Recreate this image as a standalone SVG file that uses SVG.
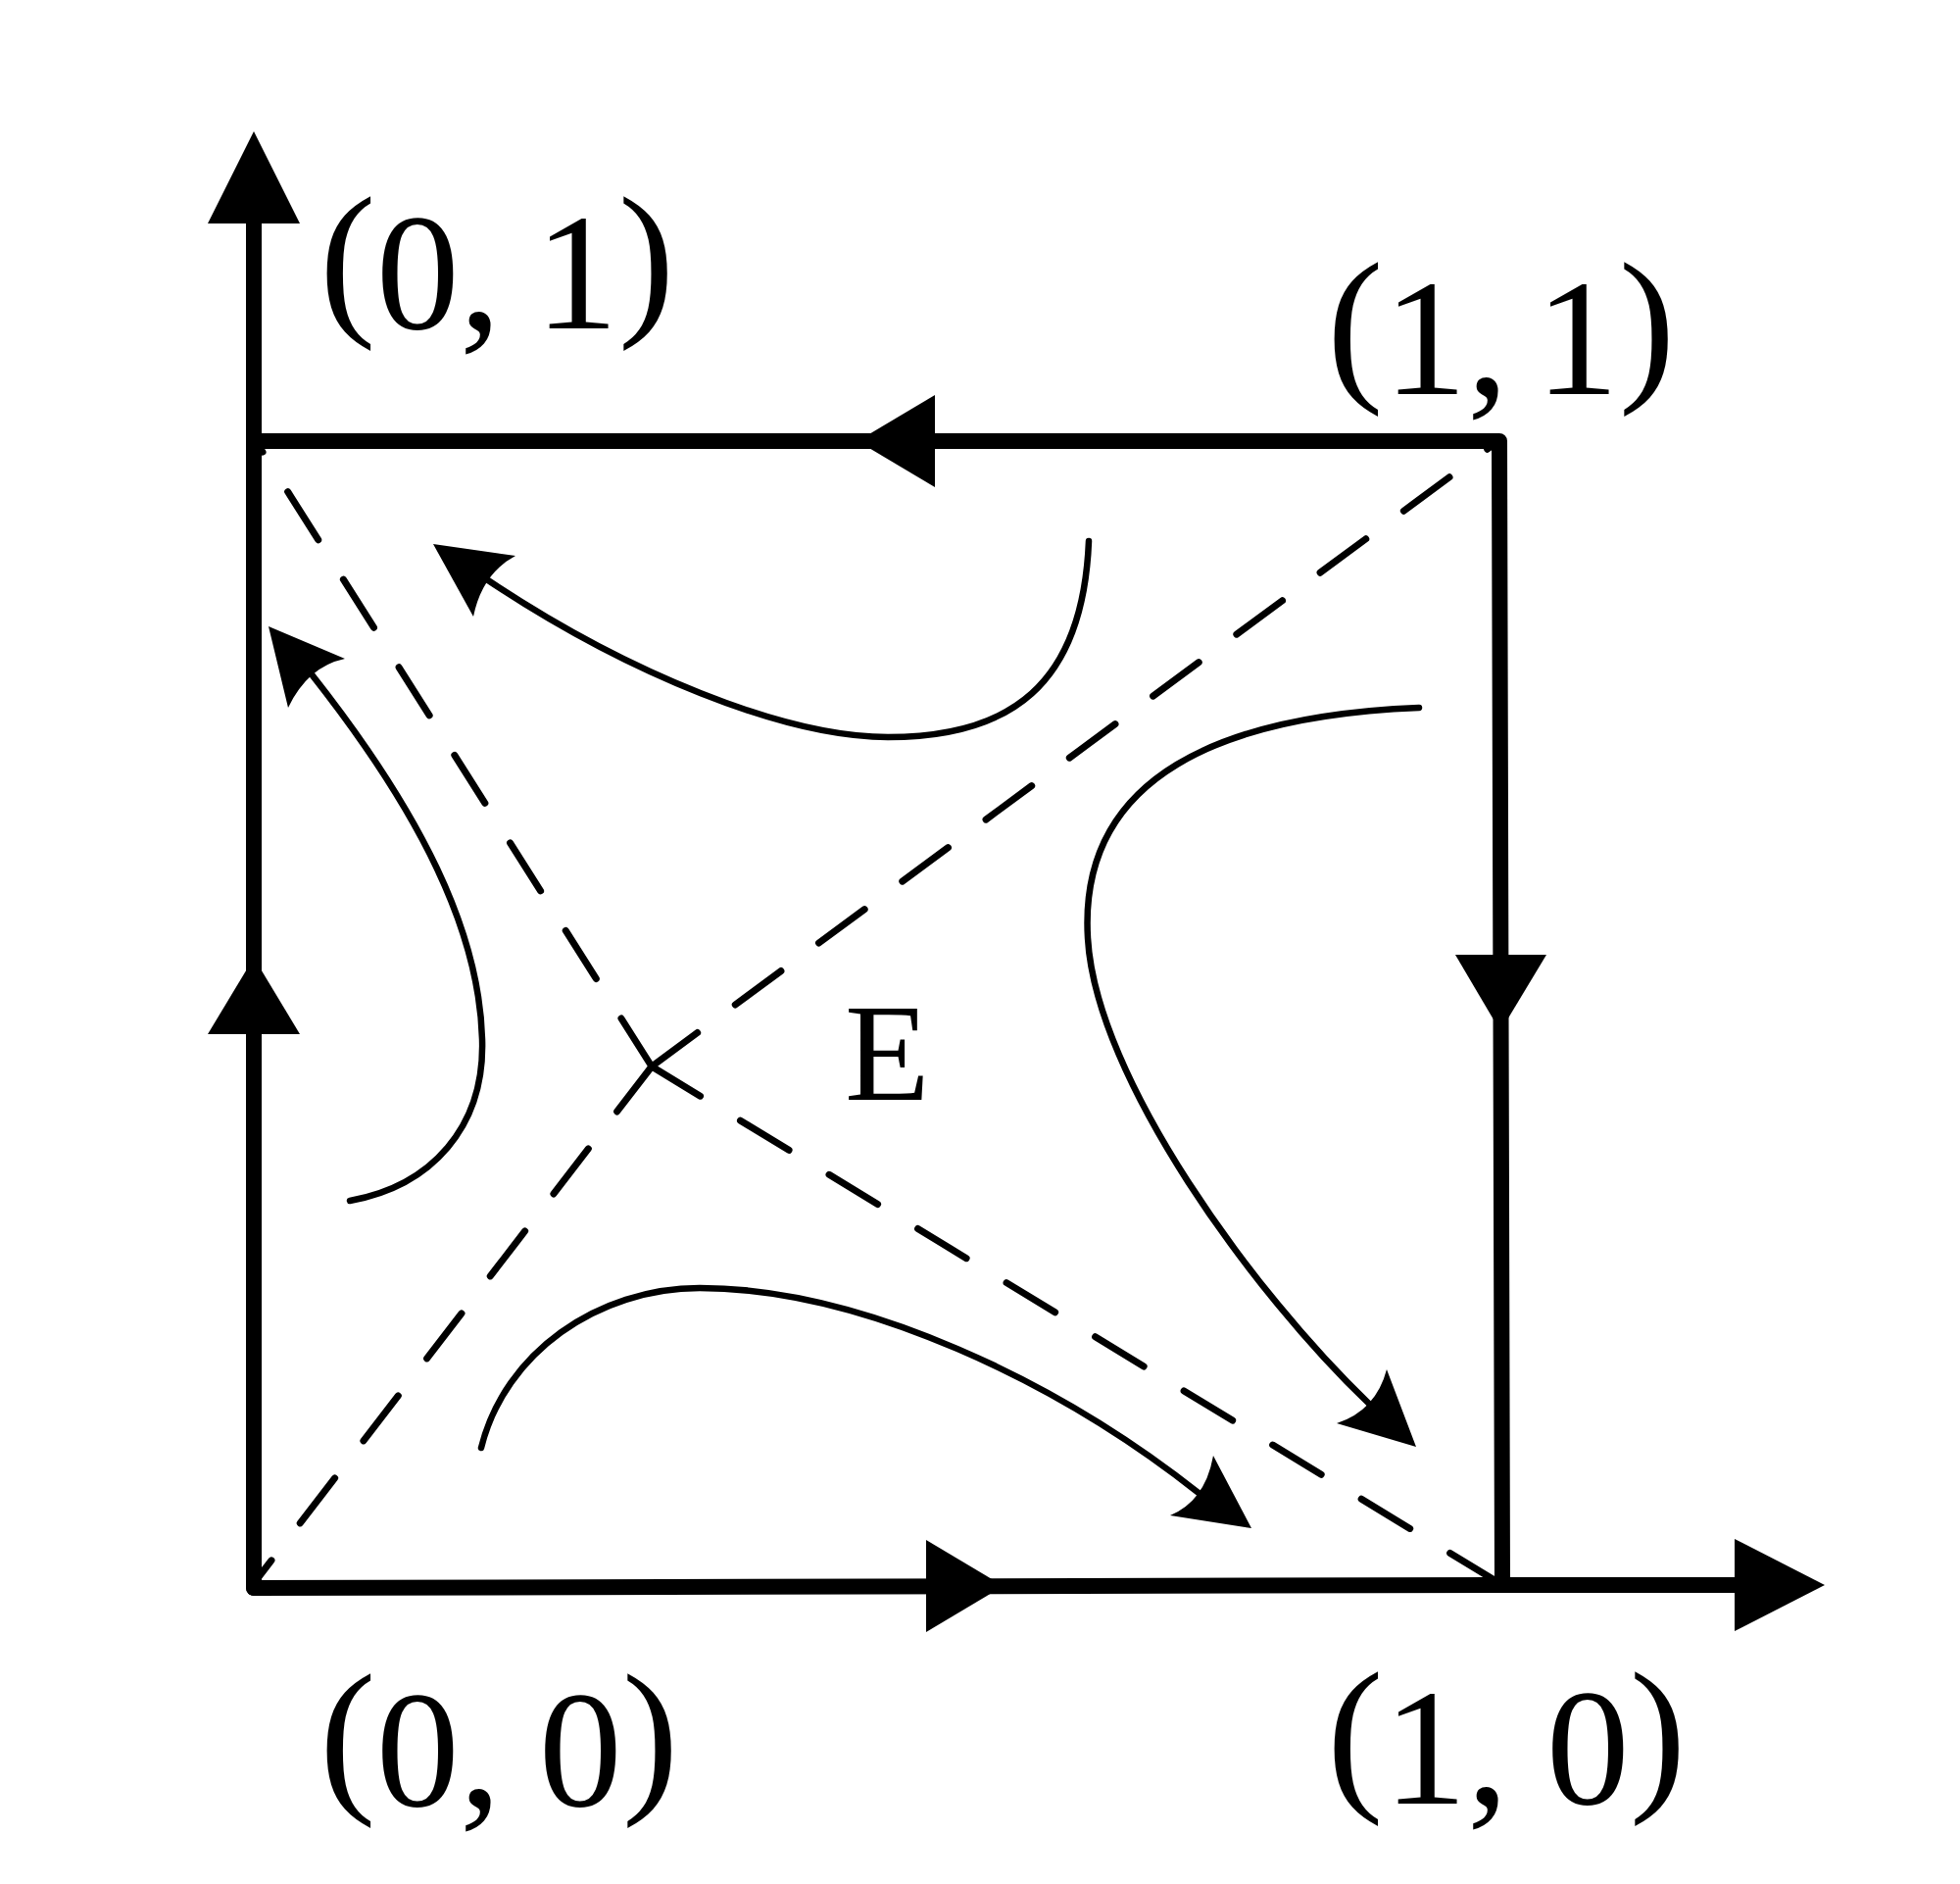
<svg xmlns="http://www.w3.org/2000/svg" width="2000" height="1922" viewBox="0 0 2000 1922">
<style>
.thick{fill:none;stroke:#000;stroke-width:16;stroke-linejoin:round;stroke-linecap:round}
.flow{fill:none;stroke:#000;stroke-width:6.5;stroke-linecap:round}
.dash{fill:none;stroke:#000;stroke-width:7;stroke-linecap:round;stroke-dasharray:58 48}
.head{fill:#000;stroke:none}
.lbl{font-size:170px;fill:#000}
.p{font-size:173px}
</style>
<rect width="2000" height="1922" fill="#fff"/>
<g id="connectors">
  <path class="thick" d="M259,1620 L259,225"/>
  <path class="thick" d="M259,1620 L1533,1617 L1772,1617"/>
  <path class="thick" d="M1533,1617 L1530,450 L259,450"/>
  <polygon class="head" points="259,134 212,228 306,228"/>
  <polygon class="head" points="259,977 212,1055 306,1055"/>
  <polygon class="head" points="1862,1617 1770,1570 1770,1664"/>
  <polygon class="head" points="1024,1618 945,1571 945,1665"/>
  <polygon class="head" points="875,450 954,403 954,497"/>
  <polygon class="head" points="1531,1052 1485,974 1578,974"/>
  <path class="dash" d="M665,1088 L266,458"/>
  <path class="dash" d="M665,1088 L1522,455"/>
  <path class="dash" d="M665,1088 L263,1610"/>
  <path class="dash" d="M665,1088 L1525,1612"/>
  <path class="flow" d="M357,1225 C440,1210 495,1150 492,1060 C489,950 430,830 318,688"/>
  <path class="head" d="M274,639 L352,672 Q314,680 294,722 Z"/>
  <path class="flow" d="M1111,552 C1105,700 1030,752 906,752 C800,752 639,686 498,592"/>
  <path class="head" d="M442,555 L526,567 Q492,585 483,629 Z"/>
  <path class="flow" d="M1448,722 C1250,730 1100,790 1110,957 C1118,1100 1280,1320 1397,1432"/>
  <path class="head" d="M1445,1476 L1415,1397 Q1404,1439 1364,1452 Z"/>
  <path class="flow" d="M491,1477 C515,1380 610,1314 714,1314 C880,1314 1080,1410 1223,1523"/>
  <path class="head" d="M1277,1559 L1238,1485 Q1230,1531 1194,1546 Z"/>
</g>
<g font-family="Liberation Serif, Times New Roman, Tinos, serif">
<g id="node-01"><text class="lbl" x="326" y="335" word-spacing="-8"><tspan class="p" dy="-14">(</tspan><tspan dy="14">0, 1</tspan><tspan class="p" dy="-14">)</tspan></text></g>
<g id="node-11"><text class="lbl" x="1354" y="402" word-spacing="-15"><tspan class="p" dy="-14">(</tspan><tspan dy="14">1, 1</tspan><tspan class="p" dy="-14">)</tspan></text></g>
<g id="node-00"><text class="lbl" x="326" y="1842" word-spacing="-4"><tspan class="p" dy="-14">(</tspan><tspan dy="14">0, 0</tspan><tspan class="p" dy="-14">)</tspan></text></g>
<g id="node-10"><text class="lbl" x="1354" y="1840" word-spacing="-4"><tspan class="p" dy="-14">(</tspan><tspan dy="14">1, 0</tspan><tspan class="p" dy="-14">)</tspan></text></g>
<g id="node-E"><text x="862" y="1122" font-size="142">E</text></g>
</g>
</svg>
